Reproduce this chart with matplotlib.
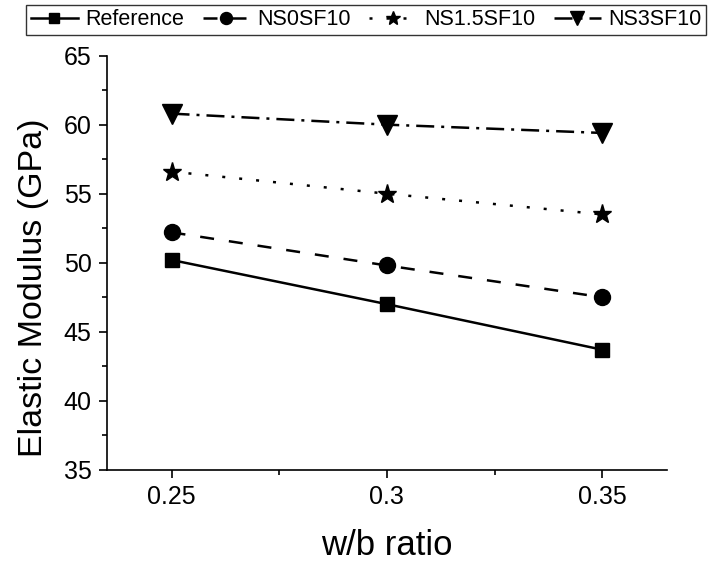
import numpy as np
import matplotlib
matplotlib.use("Agg")
import matplotlib.pyplot as plt

plt.rcParams['font.family'] = ['Liberation Sans', 'DejaVu Sans']

wb = [0.25, 0.3, 0.35]
reference = [50.2, 47.0, 43.7]
ns0sf10 = [52.2, 49.8, 47.5]
ns15sf10 = [56.6, 55.0, 53.5]
ns3sf10 = [60.8, 60.0, 59.4]

fig = plt.figure(figsize=(7.08, 5.62), dpi=100)
ax = fig.add_axes([0.151, 0.164, 0.791, 0.737])

lw = 1.8
ax.plot(wb, reference, color='black', lw=lw, ls='-', marker='s', ms=10.5, label='Reference')
ax.plot(wb, ns0sf10, color='black', lw=lw, ls=(0, (5.6, 6.0)), marker='o', ms=11.5, label='NS0SF10')
ax.plot(wb, ns15sf10, color='black', lw=lw, ls=(0, (1.2, 5.6)), marker='*', ms=14, label='NS1.5SF10')
ax.plot(wb, ns3sf10, color='black', lw=lw, ls=(0, (7.2, 2.8, 1.2, 2.8)), marker='v', ms=14, label='NS3SF10')

ax.set_xlim(0.235, 0.365)
ax.set_ylim(35, 65)
ax.set_xticks([0.25, 0.3, 0.35])
ax.set_xticklabels(['0.25', '0.3', '0.35'])
ax.set_xticks([0.275, 0.325], minor=True)
ax.set_yticks(np.arange(35, 66, 5))
ax.set_yticks(np.arange(37.5, 65, 5), minor=True)

for s in ['top', 'right']:
    ax.spines[s].set_visible(False)
for s in ['left', 'bottom']:
    ax.spines[s].set_linewidth(1.2)

ax.tick_params(which='major', direction='out', length=6, width=1.2, labelsize=18, pad=5)
ax.tick_params(which='minor', direction='out', length=3.5, width=1.2)

ax.set_xlabel('w/b ratio', fontsize=25, labelpad=14)
ax.set_ylabel('Elastic Modulus (GPa)', fontsize=24.5)
ax.yaxis.set_label_coords(-0.104, 0.44)

leg = fig.legend(loc='upper left', bbox_to_anchor=(0.037, 0.991), ncol=4, fontsize=15.5,
                 frameon=True, fancybox=False, edgecolor='black', handlelength=2.2,
                 handletextpad=0.35, columnspacing=0.85, borderpad=0.2, borderaxespad=0,
                 markerscale=0.75)
leg.get_frame().set_linewidth(1.0)

fig.savefig('out.png', dpi=100)
